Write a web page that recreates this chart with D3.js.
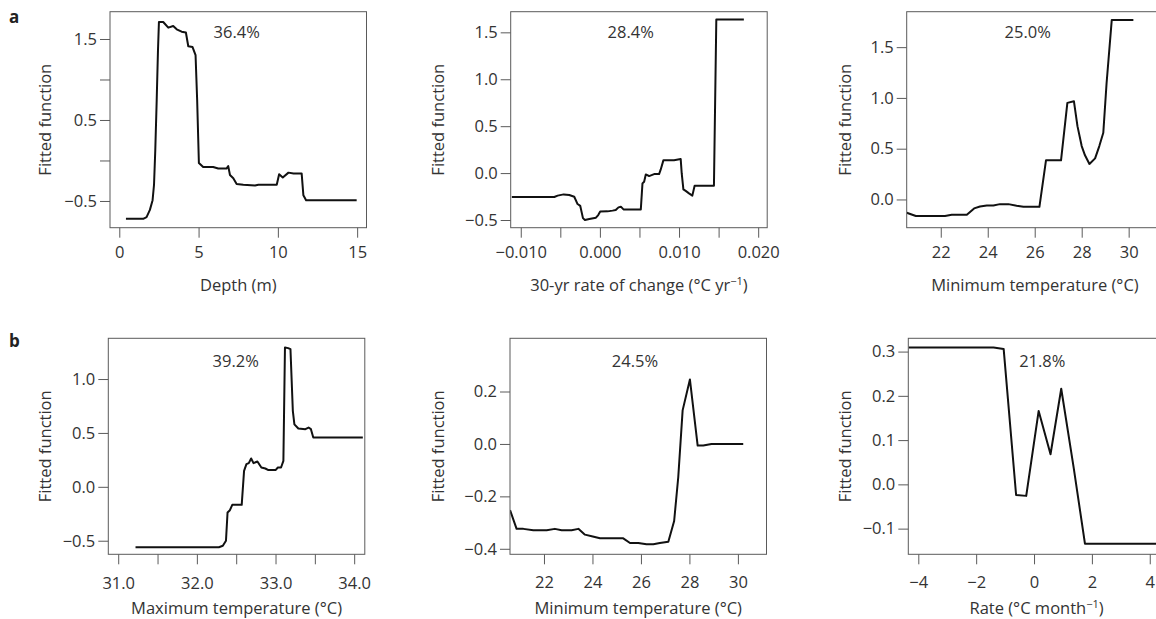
<!DOCTYPE html>
<html>
<head>
<meta charset="utf-8">
<script src="https://cdn.jsdelivr.net/npm/d3@7"></script>
<style>
  body { margin: 0; background: #fff; }
  svg { display: block; font-family: "Open Sans", "Noto Sans", sans-serif; }
</style>
</head>
<body>
<svg id="chart" width="1156" height="619"></svg>
<script>
// ---- data ----
var depthX = [0.42,1.51,1.72,1.93,2.1,2.19,2.27,2.36,2.44,2.5,2.77,3.09,3.4,3.62,3.93,4.2,4.35,4.62,4.81,4.91,5.02,5.29,5.92,6.24,6.76,6.87,6.98,7.19,7.4,7.82,8.56,8.77,9.3,9.93,10.08,10.31,10.67,10.99,11.5,11.61,11.78,14.97];
var depthY = [-0.72,-0.72,-0.70,-0.61,-0.49,-0.30,0.13,0.75,1.36,1.71,1.71,1.64,1.66,1.62,1.59,1.58,1.41,1.40,1.30,0.75,-0.03,-0.08,-0.08,-0.10,-0.10,-0.07,-0.18,-0.22,-0.29,-0.30,-0.31,-0.30,-0.30,-0.30,-0.17,-0.21,-0.15,-0.16,-0.16,-0.43,-0.49,-0.49];

var rate30X = [-0.01113,-0.00576,-0.00534,-0.00458,-0.00387,-0.00324,-0.00282,-0.00248,-0.00214,-0.00189,-0.00134,-0.0005,-0.00021,0.00004,0.00097,0.0016,0.002,0.00235,0.00265,0.00298,0.00517,0.00538,0.00559,0.0058,0.006,0.00622,0.00685,0.00748,0.00769,0.00803,0.00937,0.01021,0.01034,0.01055,0.01084,0.01126,0.01168,0.01197,0.01441,0.01471,0.01819];
var rate30Y = [-0.255,-0.255,-0.24,-0.227,-0.234,-0.252,-0.33,-0.35,-0.48,-0.50,-0.49,-0.475,-0.447,-0.41,-0.408,-0.40,-0.394,-0.365,-0.358,-0.387,-0.387,-0.11,-0.092,-0.014,-0.021,-0.032,-0.011,-0.011,0.039,0.138,0.138,0.149,-0.004,-0.174,-0.19,-0.216,-0.24,-0.135,-0.135,1.638,1.638];

var minTempAX = [20.55,20.94,21.83,22.18,22.47,23.11,23.42,23.67,23.96,24.24,24.52,24.88,25.23,25.52,26.2,26.48,27.12,27.39,27.67,27.82,28.0,28.14,28.33,28.57,28.75,28.92,29.06,29.28,30.2];
var minTempAY = [-0.131,-0.163,-0.163,-0.163,-0.15,-0.15,-0.088,-0.069,-0.059,-0.059,-0.046,-0.046,-0.062,-0.072,-0.072,0.386,0.386,0.951,0.967,0.722,0.526,0.435,0.35,0.405,0.526,0.657,1.147,1.768,1.768];

var maxTempX = [31.22,32.28,32.33,32.37,32.39,32.42,32.45,32.57,32.6,32.63,32.66,32.69,32.72,32.77,32.82,32.87,32.91,33.0,33.03,33.07,33.1,33.12,33.16,33.19,33.22,33.24,33.29,33.38,33.42,33.45,33.48,34.11];
var maxTempY = [-0.56,-0.56,-0.547,-0.50,-0.238,-0.217,-0.167,-0.167,0.148,0.21,0.22,0.263,0.22,0.235,0.179,0.17,0.155,0.155,0.179,0.179,0.241,1.293,1.287,1.277,0.705,0.58,0.541,0.535,0.55,0.535,0.458,0.458];

var minTempBX = [20.6,20.87,21.15,21.56,22.11,22.45,22.73,23.14,23.42,23.69,23.97,24.31,25.27,25.55,25.89,26.23,26.51,26.78,27.13,27.37,27.54,27.72,28.02,28.34,28.57,28.91,30.22];
var minTempBY = [-0.2525,-0.324,-0.324,-0.329,-0.329,-0.324,-0.329,-0.329,-0.324,-0.346,-0.352,-0.36,-0.36,-0.378,-0.378,-0.383,-0.383,-0.378,-0.373,-0.294,-0.126,0.128,0.246,-0.006,-0.006,0.0,0.0];

var rateX = [-4.34,-1.40,-1.05,-0.62,-0.27,0.16,0.57,0.94,1.37,1.76,4.6];
var rateY = [0.309,0.309,0.306,-0.024,-0.026,0.166,0.068,0.216,0.038,-0.134,-0.134];

// relative influence of each predictor
var percents = ["36.4%", "28.4%", "25.0%", "39.2%", "24.5%", "21.8%"];

// axis extents (data units at the box edges)
var xDomains = [[-0.586, 15.59], [-0.01127, 0.02114], [20.55, 31.47], [30.874, 34.135], [20.598, 31.18], [-4.346, 4.52]];
var yDomains = [[-0.83, 1.837], [-0.582, 1.72], [-0.278, 1.849], [-0.626, 1.378], [-0.421, 0.403], [-0.158, 0.33]];

// ticks, and which ones carry a label
var xTicks = [[0,5,10,15], [-0.01,-0.005,0,0.005,0.01,0.015,0.02], [22,24,26,28,30], [31,31.5,32,32.5,33,33.5,34], [22,24,26,28,30], [-4,-2,0,2,4]];
var xTickLabels = [["0","5","10","15"], ["−0.010","","0.000","","0.010","","0.020"], ["22","24","26","28","30"], ["31.0","","32.0","","33.0","","34.0"], ["22","24","26","28","30"], ["−4","−2","0","2","4"]];
var yTicks = [[-0.5,0,0.5,1,1.5], [-0.5,0,0.5,1,1.5], [0,0.5,1,1.5], [-0.5,0,0.5,1], [-0.4,-0.2,0,0.2], [-0.1,0,0.1,0.2,0.3]];
var yTickLabels = [["−0.5","","0.5","","1.5"], ["−0.5","0.0","0.5","1.0","1.5"], ["0.0","0.5","1.0","1.5"], ["−0.5","0.0","0.5","1.0"], ["−0.4","−0.2","0.0","0.2"], ["−0.1","0.0","0.1","0.2","0.3"]];

// x axis titles: [main text, superscript, closing text]
var xTitles = [["Depth (m)", "", ""], ["30-yr rate of change (°C yr", "−1", ")"], ["Minimum temperature (°C)", "", ""],
               ["Maximum temperature (°C)", "", ""], ["Minimum temperature (°C)", "", ""], ["Rate (°C month", "−1", ")"]];

var seriesX = [depthX, rate30X, minTempAX, maxTempX, minTempBX, rateX];
var seriesY = [depthY, rate30Y, minTempAY, maxTempY, minTempBY, rateY];

// ---- layout ----
var boxW = 256.5, boxH = 216;
var boxLeft = [110, 510.7, 906.7, 108.3, 510, 908.3];
var boxTop = [11.7, 11.7, 11.7, 338.3, 338.3, 338.3];
var yTitleX = [45, 438.3, 845, 45, 438.3, 845];
var pctPos = [[126.7, 20.6], [120, 20.6], [121, 20.6], [127.4, 22.7], [125, 22.7], [134, 22.7]]; // offset in box
var tickLabelGap = [25, 25, 25, 28.5, 28, 28];
var xTitleGap = [58, 58, 58, 53.5, 53.5, 53.5];

var tickLen = 10;
var axisColor = "#5a5a5a";
var textColor = "#333";
var fontSize = 16.5;

var svg = d3.select("#chart");

for (var i = 0; i < 6; i++) {
    drawPanel(svg, i);
}

// panel letters
svg.append("text").attr("x", 9).attr("y", 23).text("a")
    .style("font-weight", "bold").style("font-size", "17px").attr("fill", "#222");
svg.append("text").attr("x", 9).attr("y", 347).text("b")
    .style("font-weight", "bold").style("font-size", "17px").attr("fill", "#222");

function drawPanel(svg, k)
{
    var g = svg.append("g")
               .attr("transform", "translate(" + boxLeft[k] + "," + boxTop[k] + ")");

    var x = d3.scaleLinear().domain(xDomains[k]).range([0, boxW]);
    var y = d3.scaleLinear().domain(yDomains[k]).range([boxH, 0]);

    // x axis (ticks hang below the box)
    var xAxis = d3.axisBottom(x)
                  .tickValues(xTicks[k])
                  .tickSize(tickLen)
                  .tickSizeOuter(0)
                  .tickFormat(function(d, i) { return xTickLabels[k][i]; });
    var gx = g.append("g").attr("transform", "translate(0," + boxH + ")").call(xAxis);
    gx.select(".domain").remove();
    gx.attr("font-family", null).attr("font-size", null);
    gx.selectAll("line").attr("stroke", axisColor);
    gx.selectAll("text")
      .attr("y", tickLabelGap[k])
      .attr("dy", "0.35em")
      .attr("fill", textColor)
      .style("font-size", fontSize + "px");

    // y axis
    var yAxis = d3.axisLeft(y)
                  .tickValues(yTicks[k])
                  .tickSize(tickLen)
                  .tickSizeOuter(0)
                  .tickFormat(function(d, i) { return yTickLabels[k][i]; });
    var gy = g.append("g").call(yAxis);
    gy.select(".domain").remove();
    gy.attr("font-family", null).attr("font-size", null);
    gy.selectAll("line").attr("stroke", axisColor);
    gy.selectAll("text")
      .attr("x", -13)
      .attr("fill", textColor)
      .style("font-size", fontSize + "px");

    // fitted function line, clipped to the box
    var clipId = "clip" + k;
    g.append("clipPath").attr("id", clipId)
     .append("rect").attr("width", boxW).attr("height", boxH);

    var pts = d3.zip(seriesX[k], seriesY[k]);
    var line = d3.line()
                 .x(function(d) { return x(d[0]); })
                 .y(function(d) { return y(d[1]); });
    g.append("path")
     .datum(pts)
     .attr("clip-path", "url(#" + clipId + ")")
     .attr("d", line)
     .attr("fill", "none")
     .attr("stroke", "#111")
     .attr("stroke-width", 2)
     .attr("stroke-linejoin", "round");

    // box
    g.append("rect")
     .attr("width", boxW)
     .attr("height", boxH)
     .attr("fill", "none")
     .attr("stroke", axisColor)
     .attr("stroke-width", 1);

    // percentage
    g.append("text")
     .attr("x", pctPos[k][0])
     .attr("y", pctPos[k][1])
     .attr("dy", "0.35em")
     .attr("text-anchor", "middle")
     .attr("fill", textColor)
     .style("font-size", fontSize + "px")
     .text(percents[k]);

    // x title (superscript shifted in px so the closing bracket returns to the baseline)
    var t = g.append("text")
             .attr("x", boxW / 2)
             .attr("y", boxH + xTitleGap[k] + 5.8)
             .attr("text-anchor", "middle")
             .attr("fill", textColor)
             .style("font-size", fontSize + "px");
    t.append("tspan").text(xTitles[k][0]);
    if (xTitles[k][1] != "") {
        t.append("tspan").attr("dy", -6).style("font-size", "11px").text(xTitles[k][1]);
        t.append("tspan").attr("dy", 6).text(xTitles[k][2]);
    }

    // y title
    svg.append("text")
       .attr("transform", "translate(" + yTitleX[k] + "," + (boxTop[k] + boxH / 2) + ") rotate(-90)")
       .attr("dy", "0.35em")
       .attr("text-anchor", "middle")
       .attr("fill", textColor)
       .style("font-size", fontSize + "px")
       .text("Fitted function");
}
</script>
</body>
</html>
